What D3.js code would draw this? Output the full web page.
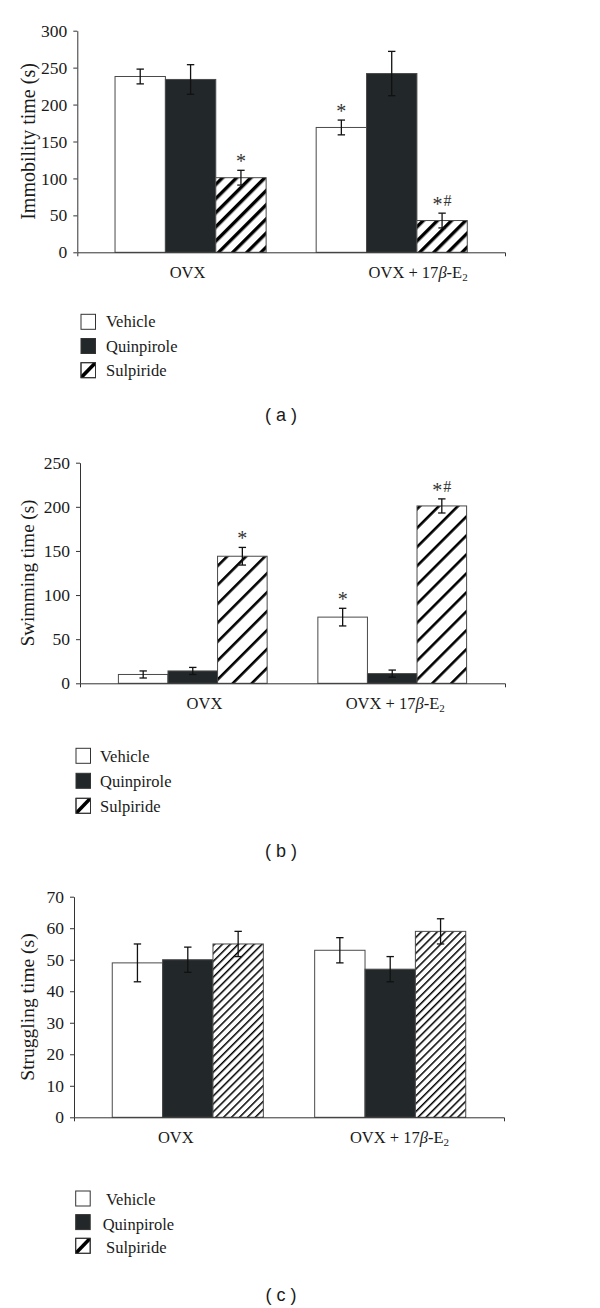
<!DOCTYPE html>
<html><head><meta charset="utf-8">
<script src="https://cdn.jsdelivr.net/npm/d3@7"></script>
<style>body{margin:0;background:#fff} svg{display:block}</style>
</head><body><svg id="chart" width="600" height="1308"></svg>
<script>
const groups = ["OVX", "OVX + 17β-E2"];
const treatments = ["Vehicle", "Quinpirole", "Sulpiride"];

const immobilityMeans = [[238, 234, 101], [169, 242, 43]];
const immobilityErrors = [[10, 20, 10], [10, 30, 10]];
const immobilityMarks = [["", "", "*"], ["*", "", "*#"]];
const immobilityTicks = [0, 50, 100, 150, 200, 250, 300];

const swimmingMeans = [[10, 14, 144], [75, 11, 201]];
const swimmingErrors = [[4, 4, 10], [10, 4, 8]];
const swimmingMarks = [["", "", "*"], ["*", "", "*#"]];
const swimmingTicks = [0, 50, 100, 150, 200, 250];

const strugglingMeans = [[49, 50, 55], [53, 47, 59]];
const strugglingErrors = [[6, 4, 4], [4, 4, 4]];
const strugglingMarks = [["", "", ""], ["", "", ""]];
const strugglingTicks = [0, 10, 20, 30, 40, 50, 60, 70];

const yTitles = ["Immobility time (s)", "Swimming time (s)", "Struggling time (s)"];
const panelLetters = ["a", "b", "c"];

// layout (positions/styles only)
const layouts = [
  {x0:77.3, x1:505, yTop:30.7, yBase:252.3, pi:0.2488, po:0.1876, labelDx:[-3, 26.4],
   legX:81, legTextX:[106,106,106], legTop:[314.3,338.5,362.7], legBase:[327.3,351.6,376],
   letterY:420.7, hatchP:10, hatchW:3.4, titleSize:20},
  {x0:80, x1:505, yTop:462.7, yBase:683.3, pi:0.2543, po:0.1925, labelDx:[11.7, 3],
   legX:76, legTextX:[100,100,100], legTop:[748.3,773.3,798.3], legBase:[761.7,786.7,811.7],
   letterY:856.7, hatchP:13.4, hatchW:2.6, titleSize:19},
  {x0:74, x1:504, yTop:896.7, yBase:1117.3, pi:0.2536, po:0.189, labelDx:[-12, 9.3],
   legX:75.7, legTextX:[106,102.7,106], legTop:[1191,1214.6,1238.3], legBase:[1205,1230,1252.7],
   letterY:1300.7, hatchP:5.6, hatchW:1.5, titleSize:19.5}
];
const panels = [
  {means:immobilityMeans, errors:immobilityErrors, marks:immobilityMarks, ticks:immobilityTicks},
  {means:swimmingMeans, errors:swimmingErrors, marks:swimmingMarks, ticks:swimmingTicks},
  {means:strugglingMeans, errors:strugglingErrors, marks:strugglingMarks, ticks:strugglingTicks}
];

const DARK = "#22282a";
const INK = "#1a1a1a";
const SERIF = "'Liberation Serif','Times New Roman',serif";
const svg = d3.select("#chart");
const defs = svg.append("defs");

panels.forEach((p, i) => {
  const L = layouts[i];
  const pid = "hatch" + i;
  const pat = defs.append("pattern").attr("id", pid).attr("patternUnits", "userSpaceOnUse")
    .attr("width", L.hatchP).attr("height", L.hatchP)
    .attr("patternTransform", "rotate(45)");
  pat.append("rect").attr("width", L.hatchP).attr("height", L.hatchP).attr("fill", "#fff");
  pat.append("rect").attr("x", 0).attr("y", 0).attr("width", L.hatchW).attr("height", L.hatchP).attr("fill", "#000");

  const fills = ["#fff", DARK, `url(#${pid})`];
  const yMax = p.ticks[p.ticks.length - 1];
  const y = d3.scaleLinear().domain([0, yMax]).range([L.yBase, L.yTop]);
  const x = d3.scaleBand().domain(groups).range([L.x0, L.x1]).paddingInner(L.pi).paddingOuter(L.po);
  const xi = d3.scaleBand().domain(treatments).range([0, x.bandwidth()]).padding(0);

  const g = svg.append("g");

  // bars
  groups.forEach((grp, gi) => {
    const gg = g.append("g").attr("transform", `translate(${x(grp)},0)`);
    treatments.forEach((t, ti) => {
      const m = p.means[gi][ti], e = p.errors[gi][ti];
      gg.append("rect").attr("x", xi(t)).attr("y", y(m))
        .attr("width", xi.bandwidth()).attr("height", y(0) - y(m))
        .attr("fill", fills[ti]).attr("stroke", "#4a4a4a").attr("stroke-width", 1);
      const cx = xi(t) + xi.bandwidth() / 2;
      const eb = gg.append("g").attr("stroke", "#111").attr("stroke-width", 1.3);
      eb.append("line").attr("x1", cx).attr("x2", cx).attr("y1", y(m - e)).attr("y2", y(m + e));
      eb.append("line").attr("x1", cx - 3.7).attr("x2", cx + 3.7).attr("y1", y(m + e)).attr("y2", y(m + e));
      eb.append("line").attr("x1", cx - 3.7).attr("x2", cx + 3.7).attr("y1", y(m - e)).attr("y2", y(m - e));
      const mk = p.marks[gi][ti];
      if (mk) {
        const txt = gg.append("text").attr("x", cx).attr("y", y(m + e) - 2)
          .attr("text-anchor", "middle").attr("font-family", SERIF).attr("fill", "#333");
        let prevShift = 0;
        mk.split("").forEach((ch, k) => {
          const shift = ch === "#" ? -5.3 : 0;
          txt.append("tspan").attr("dy", shift - prevShift)
            .attr("font-size", ch === "*" ? 20 : 16).attr("dx", k > 0 ? 1 : 0).text(ch);
          prevShift = shift;
        });
      }
    });
  });

  // y axis
  const ya = g.append("g").attr("transform", `translate(${L.x0},0)`)
    .call(d3.axisLeft(y).tickValues(p.ticks).tickSize(4).tickSizeOuter(0).tickPadding(6).tickFormat(d3.format("d")));
  ya.select(".domain").attr("stroke", "#333");
  ya.selectAll(".tick line").attr("stroke", "#333");
  ya.selectAll("text").attr("font-family", SERIF).attr("font-size", 17.5).attr("fill", INK);

  // x axis
  const xa = g.append("g").attr("transform", `translate(0,${L.yBase})`)
    .call(d3.axisBottom(x).tickSize(0).tickSizeOuter(4).tickFormat(""));
  xa.select(".domain").attr("stroke", "#333");

  // category labels
  groups.forEach((grp, gi) => {
    const t = g.append("text").attr("x", x(grp) + x.bandwidth() / 2 + L.labelDx[gi]).attr("y", L.yBase + 26)
      .attr("text-anchor", "middle").attr("font-family", SERIF).attr("font-size", 16.5).attr("fill", INK);
    const m = grp.match(/^(.*)β-E2$/);
    if (m) {
      t.append("tspan").text(m[1]);
      t.append("tspan").attr("font-style", "italic").text("β");
      t.append("tspan").text("-E");
      t.append("tspan").attr("font-size", 11).attr("dy", 3).text("2");
    } else t.text(grp);
  });

  // y title
  g.append("text").attr("transform", `translate(${27.5},${(L.yTop + L.yBase) / 2}) rotate(-90)`)
    .attr("text-anchor", "middle").attr("dy", "0.35em").attr("font-family", SERIF)
    .attr("font-size", L.titleSize).attr("fill", INK).text(yTitles[i]);

  // legend
  treatments.forEach((t, ti) => {
    const lx = L.legX, ly = L.legTop[ti], w = 14.5, h = 15;
    const cid = `legclip${i}`;
    if (ti === 2) {
      defs.append("clipPath").attr("id", cid).append("rect").attr("x", lx).attr("y", ly).attr("width", w).attr("height", h);
    }
    g.append("rect").attr("x", lx).attr("y", ly).attr("width", w).attr("height", h)
      .attr("fill", ti === 1 ? DARK : "#fff").attr("stroke", "#333").attr("stroke-width", 1);
    if (ti === 2) {
      g.append("line").attr("clip-path", `url(#${cid})`)
        .attr("x1", lx).attr("y1", ly + h).attr("x2", lx + w).attr("y2", ly)
        .attr("stroke", "#000").attr("stroke-width", 3.6);
      g.append("rect").attr("x", lx).attr("y", ly).attr("width", w).attr("height", h)
        .attr("fill", "none").attr("stroke", "#333").attr("stroke-width", 1);
    }
    g.append("text").attr("x", L.legTextX[ti]).attr("y", L.legBase[ti])
      .attr("font-family", SERIF).attr("font-size", 16.5).attr("fill", INK).text(t);
  });

  // panel letter
  g.append("text").attr("x", 281).attr("y", L.letterY).attr("text-anchor", "middle")
    .attr("font-family", "'Liberation Sans',Arial,sans-serif").attr("font-size", 18).attr("fill", INK)
    .text(`( ${panelLetters[i]} )`);
});
</script></body></html>
